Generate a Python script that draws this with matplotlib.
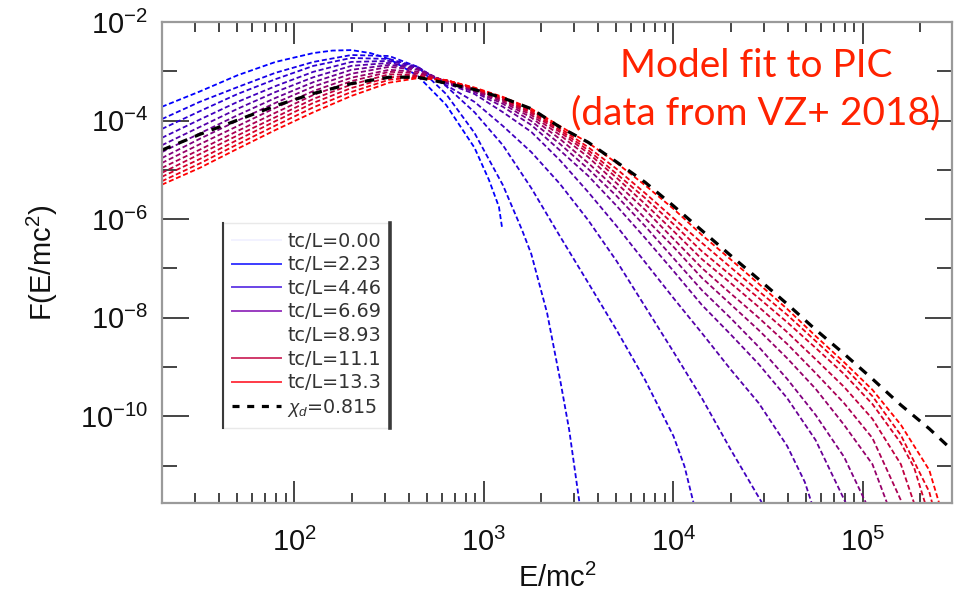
import numpy as np
import matplotlib
matplotlib.use("Agg")
import matplotlib.pyplot as plt
from matplotlib.ticker import FixedLocator, LogLocator, NullFormatter, LogFormatterSciNotation
from matplotlib.lines import Line2D

plt.rcParams['font.family'] = ['Liberation Sans', 'DejaVu Sans']
plt.rcParams['mathtext.fontset'] = 'custom'
plt.rcParams['mathtext.rm'] = 'Liberation Sans'
plt.rcParams['mathtext.it'] = 'Liberation Sans:italic'
plt.rcParams['mathtext.bf'] = 'Liberation Sans:bold'

# ---- spectra F(E) at successive times, log10 values ----
# common log10(E/mc^2) grid
grid = [1.30, 1.50, 1.70, 1.90, 2.10, 2.30, 2.50, 2.65, 2.80, 2.95, 3.10, 3.25, 3.40,
        3.55, 3.70, 3.85, 4.00, 4.15, 4.30, 4.45, 4.60, 4.75, 4.90, 5.05, 5.20, 5.35, 5.47]

loge_t00 = [1.30, 1.50, 1.70, 1.90, 2.10, 2.20, 2.30, 2.40, 2.50, 2.65, 2.80, 2.95, 3.026, 3.079, 3.095]
logf_t00 = [-3.72, -3.41, -3.08, -2.81, -2.63, -2.58, -2.57, -2.63, -2.75, -3.09, -3.68, -4.55, -5.20, -5.75, -6.16]

loge_t01 = grid[:11] + [3.201, 3.25, 3.333, 3.402, 3.450, 3.487, 3.513]
logf_t01 = [-3.97, -3.62, -3.32, -3.03, -2.81, -2.67, -2.69, -2.91, -3.46, -4.25, -5.31,
            -6.22, -6.71, -7.90, -9.26, -10.28, -11.29, -12.0]

loge_t02 = grid[:17] + [4.058, 4.125]
logf_t02 = [-4.17, -3.81, -3.46, -3.16, -2.89, -2.73, -2.75, -2.91, -3.30, -3.83, -4.50,
            -5.37, -6.34, -7.29, -8.25, -9.26, -10.40, -11.01, -12.05]

loge_t03 = grid[:20] + [4.48]
logf_t03 = [-4.35, -3.98, -3.62, -3.30, -3.01, -2.81, -2.79, -2.91, -3.28, -3.62, -4.11,
            -4.64, -5.28, -6.02, -6.85, -7.77, -8.69, -9.63, -10.66, -11.64, -11.84]

loge_t04 = grid[:21] + [4.693, 4.75]
logf_t04 = [-4.50, -4.13, -3.76, -3.42, -3.12, -2.89, -2.83, -2.93, -3.24, -3.46, -3.83,
            -4.23, -4.80, -5.45, -6.14, -6.87, -7.60, -8.31, -9.04, -9.73, -10.60, -11.33, -12.0]

loge_t05 = grid[:22] + [4.93]
logf_t05 = [-4.64, -4.26, -3.89, -3.54, -3.22, -2.97, -2.87, -2.95, -3.22, -3.42, -3.72,
            -4.09, -4.60, -5.12, -5.73, -6.38, -7.05, -7.74, -8.33, -8.94, -9.63, -10.48, -11.92]

loge_t06 = grid[:23] + [5.035]
logf_t06 = [-4.76, -4.37, -4.00, -3.64, -3.31, -3.05, -2.91, -2.97, -3.21, -3.40, -3.66,
            -4.01, -4.47, -4.98, -5.53, -6.14, -6.79, -7.44, -8.00, -8.59, -9.24, -9.97,
            -10.82, -11.91]

loge_t07 = grid[:24] + [5.145]
logf_t07 = [-4.86, -4.48, -4.11, -3.74, -3.40, -3.13, -2.97, -3.01, -3.20, -3.38, -3.62,
            -3.94, -4.37, -4.86, -5.39, -5.98, -6.56, -7.19, -7.72, -8.25, -8.82, -9.44,
            -10.17, -10.97, -11.94]

loge_t08 = grid[:25] + [5.22]
logf_t08 = [-4.96, -4.59, -4.21, -3.84, -3.48, -3.20, -3.01, -3.04, -3.19, -3.37, -3.59,
            -3.89, -4.29, -4.74, -5.27, -5.81, -6.40, -6.99, -7.50, -8.00, -8.53, -9.12,
            -9.73, -10.44, -11.70, -11.87]

loge_t09 = grid[:25] + [5.285]
logf_t09 = [-5.06, -4.68, -4.30, -3.93, -3.56, -3.27, -3.06, -3.08, -3.18, -3.36, -3.57,
            -3.85, -4.23, -4.66, -5.16, -5.69, -6.24, -6.81, -7.29, -7.78, -8.29, -8.84,
            -9.40, -10.05, -10.97, -11.93]

loge_t10 = grid[:25] + [5.27, 5.34]
logf_t10 = [-5.14, -4.78, -4.39, -4.01, -3.64, -3.34, -3.12, -3.10, -3.18, -3.35, -3.55,
            -3.82, -4.19, -4.60, -5.08, -5.57, -6.10, -6.65, -7.13, -7.60, -8.09, -8.61,
            -9.14, -9.75, -10.54, -11.04, -11.91]

loge_t11 = grid[:26] + [5.38]
logf_t11 = [-5.23, -4.87, -4.48, -4.10, -3.73, -3.42, -3.17, -3.12, -3.18, -3.34, -3.53,
            -3.79, -4.15, -4.54, -4.98, -5.47, -5.98, -6.48, -6.97, -7.46, -7.94, -8.47,
            -9.00, -9.59, -10.38, -11.53, -11.98]

loge_t12 = grid[:26] + [5.402, 5.415]
logf_t12 = [-5.30, -4.96, -4.57, -4.19, -3.83, -3.50, -3.23, -3.14, -3.18, -3.33, -3.52,
            -3.76, -4.11, -4.45, -4.86, -5.31, -5.79, -6.32, -6.81, -7.31, -7.82, -8.37,
            -8.90, -9.46, -10.17, -11.09, -11.76, -12.0]

# model fit
loge_fit = grid
logf_fit = [-4.60, -4.28, -3.99, -3.70, -3.45, -3.25, -3.12, -3.12, -3.24, -3.37, -3.54,
            -3.76, -4.13, -4.44, -4.84, -5.25, -5.73, -6.23, -6.73, -7.22, -7.72, -8.24,
            -8.73, -9.24, -9.77, -10.25, -10.68]

spectra = [(loge_t00, logf_t00), (loge_t01, logf_t01), (loge_t02, logf_t02),
           (loge_t03, logf_t03), (loge_t04, logf_t04), (loge_t05, logf_t05),
           (loge_t06, logf_t06), (loge_t07, logf_t07), (loge_t08, logf_t08),
           (loge_t09, logf_t09), (loge_t10, logf_t10), (loge_t11, logf_t11),
           (loge_t12, logf_t12)]

legend_labels = ['tc/L=0.00', 'tc/L=2.23', 'tc/L=4.46', 'tc/L=6.69',
                 'tc/L=8.93', 'tc/L=11.1', 'tc/L=13.3']
legend_colors = ['#f2f2ff', '#3c3cff', '#6a44e6', '#9a3cc0', '#ffffff', '#d03a6a', '#ff3a46']
fit_label = r'$\chi_d$=0.815'

x_major = [1e2, 1e3, 1e4, 1e5]
y_major = [1e-2, 1e-4, 1e-6, 1e-8, 1e-10]
y_minor = [1e-3, 1e-5, 1e-7, 1e-9, 1e-11]

# ---- figure ----
fig = plt.figure(figsize=(9.57, 5.96), dpi=100)
ax = fig.add_axes([0.1693, 0.1560, 0.8255, 0.8071])

n = len(spectra)
for k, (le, lf) in enumerate(spectra):
    f = k / (n - 1)
    ax.plot(10 ** np.array(le), 10 ** np.array(lf), color=(f, 0.0, 1.0 - f),
            lw=1.3, dashes=(2.8, 1.5))

ax.plot(10 ** np.array(loge_fit), 10 ** np.array(logf_fit), color='black',
        lw=2.3, dashes=(3.0, 2.6))

ax.set_xscale('log')
ax.set_yscale('log')
ax.set_xlim(20, 10 ** 5.47)
ax.set_ylim(10 ** -11.757, 1e-2)

ax.xaxis.set_major_locator(FixedLocator(x_major))
ax.xaxis.set_minor_locator(LogLocator(base=10, subs=np.arange(2, 10), numticks=30))
ax.xaxis.set_major_formatter(LogFormatterSciNotation())
ax.xaxis.set_minor_formatter(NullFormatter())
ax.yaxis.set_major_locator(FixedLocator(y_major))
ax.yaxis.set_minor_locator(FixedLocator(y_minor))
ax.yaxis.set_major_formatter(LogFormatterSciNotation())
ax.yaxis.set_minor_formatter(NullFormatter())

tick_col = '#444444'
ax.tick_params(axis='x', which='major', direction='in', length=15.5, width=1.4,
               color=tick_col, top=True, bottom=True, pad=18, labelsize=21, labelcolor='#111111')
ax.tick_params(axis='x', which='minor', direction='in', length=7.5, width=1.4,
               color=tick_col, top=True, bottom=True)
ax.tick_params(axis='y', which='major', direction='in', length=19.5, width=1.4,
               color=tick_col, left=True, right=True, pad=10, labelsize=21, labelcolor='#111111')
ax.tick_params(axis='y', which='minor', direction='in', length=10.5, width=1.4,
               color=tick_col, left=True, right=True)

for sp in ax.spines.values():
    sp.set_color('#9a9a9a')
    sp.set_linewidth(1.6)

ax.set_xlabel(r'E/mc$^2$', fontsize=21, labelpad=5, color='#111111')
ax.set_ylabel(r'F(E/mc$^2$)', fontsize=21, labelpad=14, color='#111111')

# legend
handles = [Line2D([], [], color=c, lw=1.4) for c in legend_colors]
handles.append(Line2D([], [], color='black', lw=2.3, dashes=(2.2, 2.4)))
labels = legend_labels + [fit_label]
leg = ax.legend(handles, labels, loc='upper left', bbox_to_anchor=(0.0772, 0.582),
                borderaxespad=0, frameon=True, fancybox=False, edgecolor='#e4e4e4',
                prop={'family': 'DejaVu Sans', 'size': 13.8}, handlelength=2.6,
                handletextpad=0.3, labelspacing=0.24, borderpad=0.45)
leg.get_frame().set_linewidth(1.0)
for t in leg.get_texts():
    t.set_color('#333333')

# annotation
fig.text(0.790, 1 - 77 / 596, 'Model fit to PIC', ha='center', va='baseline',
         fontsize=28, family='Lato', color='#ff2200')
fig.text(0.790, 1 - 124 / 596, '(data from VZ+ 2018)', ha='center', va='baseline',
         fontsize=28, family='Lato', color='#ff2200')

# darker side rules on the legend box
fig.canvas.draw()
bb = leg.get_window_extent().transformed(fig.transFigure.inverted())
fig.add_artist(Line2D([bb.x0, bb.x0], [bb.y0, bb.y1], transform=fig.transFigure,
                      color='#3a3a3a', lw=1.5))
fig.add_artist(Line2D([bb.x1, bb.x1], [bb.y0, bb.y1], transform=fig.transFigure,
                      color='#3a3a3a', lw=2.6))

fig.savefig('out.png', dpi=100)
